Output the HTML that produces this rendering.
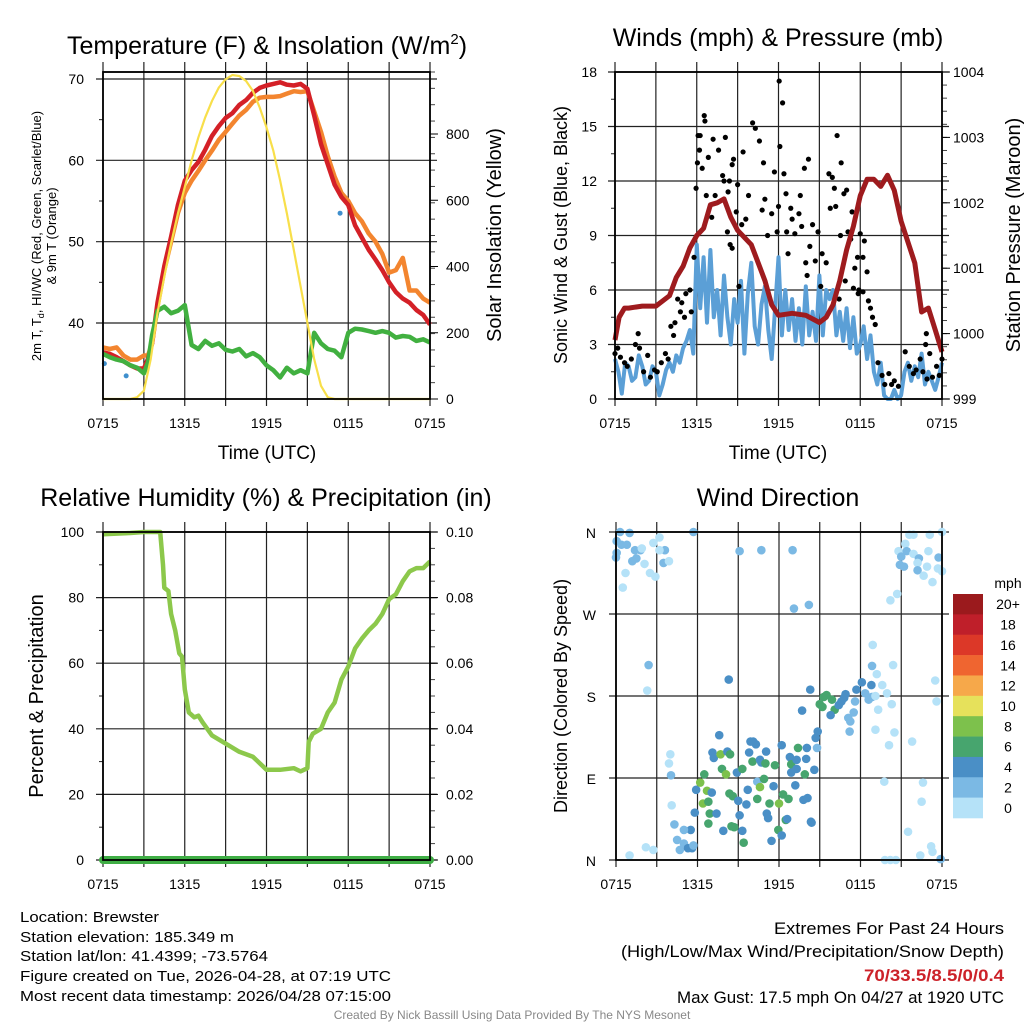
<!DOCTYPE html>
<html><head><meta charset="utf-8"><style>
html,body{margin:0;padding:0;background:#fff;}
svg{display:block;font-family:"Liberation Sans",Arial,sans-serif;}
</style></head><body>
<svg id="s" width="1024" height="1024" viewBox="0 0 1024 1024" xmlns="http://www.w3.org/2000/svg">
<g id="g1"></g>
<g id="g2"></g>
<g id="g3"></g>
<g id="g4"></g>
<g font-size="25" text-anchor="middle">
<text x="267" y="54">Temperature (F) &amp; Insolation (W/m<tspan dy="-10" font-size="15">2</tspan><tspan dy="10">)</tspan></text>
<text x="778" y="46">Winds (mph) &amp; Pressure (mb)</text>
<text x="266" y="506">Relative Humidity (%) &amp; Precipitation (in)</text>
<text x="778" y="506">Wind Direction</text>
</g>
<g text-anchor="middle">
<text x="267" y="459" font-size="19">Time (UTC)</text>
<text x="778" y="459" font-size="19">Time (UTC)</text>
<text transform="translate(41,236) rotate(-90)" font-size="13">2m T, T<tspan font-size="9" dy="3">d</tspan><tspan dy="-3">, HI/WC (Red, Green, Scarlet/Blue)</tspan></text>
<text transform="translate(56,236) rotate(-90)" font-size="13">&amp; 9m T (Orange)</text>
<text transform="translate(501,235) rotate(-90)" font-size="20">Solar Insolation (Yellow)</text>
<text transform="translate(567,235) rotate(-90)" font-size="18">Sonic Wind &amp; Gust (Blue, Black)</text>
<text transform="translate(1020,235) rotate(-90)" font-size="20">Station Pressure (Maroon)</text>
<text transform="translate(43,696) rotate(-90)" font-size="20">Percent &amp; Precipitation</text>
<text transform="translate(567,696) rotate(-90)" font-size="18">Direction (Colored By Speed)</text>
</g>
<g font-size="14.5">
<text x="20" y="922" textLength="139" lengthAdjust="spacingAndGlyphs">Location: Brewster</text>
<text x="20" y="942" textLength="214" lengthAdjust="spacingAndGlyphs">Station elevation: 185.349 m</text>
<text x="20" y="961" textLength="248" lengthAdjust="spacingAndGlyphs">Station lat/lon: 41.4399; -73.5764</text>
<text x="20" y="981" textLength="371" lengthAdjust="spacingAndGlyphs">Figure created on Tue, 2026-04-28, at 07:19 UTC</text>
<text x="20" y="1001" textLength="371" lengthAdjust="spacingAndGlyphs">Most recent data timestamp: 2026/04/28 07:15:00</text>
</g>
<g font-size="16.5" text-anchor="end">
<text x="1004" y="934" textLength="230" lengthAdjust="spacingAndGlyphs">Extremes For Past 24 Hours</text>
<text x="1004" y="957" textLength="383" lengthAdjust="spacingAndGlyphs">(High/Low/Max Wind/Precipitation/Snow Depth)</text>
<text x="1004" y="981" textLength="140" lengthAdjust="spacingAndGlyphs" fill="#cc2229" font-weight="bold">70/33.5/8.5/0/0.4</text>
<text x="1004" y="1003" textLength="327" lengthAdjust="spacingAndGlyphs">Max Gust: 17.5 mph On 04/27 at 1920 UTC</text>
</g>
<text x="512" y="1019" font-size="12" fill="#888" text-anchor="middle">Created By Nick Bassill Using Data Provided By The NYS Mesonet</text>
</svg>
<script>
// ---------- data ----------
const timeLabels = ["0715","1315","1915","0115","0715"];
const tHours = [0,0.5,1,1.5,2,2.5,3,3.3,3.6,4,4.5,5,5.5,6,6.5,7,7.5,8,8.5,9,9.5,10,10.5,11,11.5,12,12.5,13,13.5,14,14.5,15,15.5,16,16.5,17,17.5,18,18.5,19,19.5,20,20.5,21,21.5,22,22.5,23,23.5,24];
const temp2m = [36.4,36.2,35.8,35.3,34.8,34.4,34.4,35.6,37.5,42.5,47,50.6,54.5,57.5,58.8,59.8,61.3,63,64.2,65.2,65.8,66.8,67.4,68.3,68.9,69.2,69.4,69.6,69.3,69.2,69.4,68.8,65.5,62,59.5,57,55.5,54.5,52,50.5,49,47.8,46.5,45,43.8,43,42.5,41.6,41,39.8];
const temp9m = [37,36.8,37,36,35.5,35.5,36,36,37.5,42,46.5,50,53.5,56,57.5,58.7,60,61.2,62.5,63.5,64.5,65.5,66.2,67.2,67.7,67.8,67.8,67.9,68.2,68.5,68.4,68.5,66,63.5,60.5,58,56,55,53.5,52.5,51,50,48.5,46.2,46.5,48,44,44,43,42.5];
const dewpoint = [36.2,35.8,35.5,35.3,34.8,34.5,33.8,35.2,38.5,41.5,42,41.2,41.5,42.2,37.3,36.8,37.8,37.2,37.5,36.7,36.5,36.8,35.9,36.3,35.8,34.8,34.2,33.3,34.5,33.8,34.2,33.8,38.8,37.5,36.8,36.6,35.8,38.8,39.3,39.2,39,38.8,39,38.8,38.2,38.4,38.3,37.8,38,37.6];
const hiwcHours = [0.1,1.7,17.4];
const hiwcVals = [35,33.5,53.5];
const solarHours = [0,1,2,2.5,3,3.5,4,4.5,5,5.5,6,6.5,7,7.5,8,8.5,9,9.5,10,10.5,11,11.5,12,12.5,13,13.5,14,14.5,15,15.5,16,16.5,17,24];
const solarVals = [0,0,0,5,25,120,260,370,470,560,640,720,790,850,900,940,965,978,975,960,930,880,820,750,660,560,450,340,230,120,40,5,0,0];

const presHours = [0,0.3,0.7,1,2,3,4,4.5,5,5.5,6,6.5,7,7.5,8,8.5,9,10,11,11.5,12,13,14,15,15.5,16,16.5,17,17.5,18,18.5,19,19.5,20,20.5,21,22,22.5,23,23.5,24];
const presVals = [999.9,1000.25,1000.39,1000.39,1000.42,1000.42,1000.58,1000.86,1001.03,1001.31,1001.5,1001.61,1001.97,1002,1002.06,1001.78,1001.58,1001.36,1000.81,1000.44,1000.28,1000.31,1000.28,1000.17,1000.25,1000.44,1000.81,1001.28,1001.64,1002.11,1002.36,1002.36,1002.25,1002.42,1002.19,1001.72,1001.08,1000.33,1000.39,1000.06,999.72];
const windVals = [2.2,1.5,0.3,2.0,1.8,1.0,1.2,2.4,1.8,0.8,1.0,1.8,1.5,0.2,0.8,1.6,2.0,1.5,2.4,2.0,2.8,3.2,3.8,2.5,8.5,5.0,7.8,4.2,8.2,4.5,6.0,3.5,6.8,4.5,3.0,5.5,4.2,6.5,2.5,5.8,7.5,4.0,3.0,5.2,6.2,3.8,2.2,5.0,7.8,3.5,6.0,3.8,5.5,3.2,5.0,3.0,6.2,3.5,4.8,3.2,6.8,3.5,6.0,5.5,6.0,3.5,4.8,3.2,5.0,2.8,4.5,2.5,3.0,4.0,2.2,3.5,1.5,0.8,2.0,0.2,0,0,0.5,0,0.2,1.5,2.0,1.0,1.8,1.2,2.5,0.8,1.5,1.0,0.5,1.2,2.0];
const windHours = windVals.map((v,i)=>i*0.25);
const gustPts = [[0,2.5],[0.2,2.8],[0.4,2.3],[0.7,2],[0.9,1.8],[1.2,2.2],[1.5,3],[1.7,3.6],[1.8,2.8],[2.1,1.5],[2.4,2.4],[2.6,1.2],[2.9,1.6],[3.1,1.5],[3.4,2],[3.7,2.5],[3.9,2.2],
[4.1,4],[4.3,3.5],[4.4,4.2],[4.6,5.5],[4.8,4.8],[4.9,5.3],[5.1,4.5],[5.2,5.8],[5.5,6],[5.6,4.8],[5.8,7.8],[5.95,11.6],[6.05,13],[6.1,14.5],[6.25,14.5],
[6.2,13.7],[6.4,12.7],[6.55,15.6],[6.6,15.3],[6.7,11.2],[6.85,13.3],[7.2,14.3],[7.1,10],[7.35,11.2],[7.6,13.7],[7.9,12.3],[8.1,14.4],[8.0,12],[8.3,11.4],[8.25,9.2],[8.4,12],[8.45,8.5],[8.7,13.2],[8.6,8.3],[8.6,12.9],[8.9,10.3],[9.0,11.8],[9.1,6.2],[9.3,9.6],[9.4,13.6],
[9.6,9.9],[9.8,11.2],[10.1,15.2],[10.3,14.9],[10.6,14.2],[10.9,13],[10.8,10.4],[11,11],[11.2,9],[11.5,10.2],[11.7,12.5],[11.9,9.2],[12,10.6],[12.1,13.9],[12.05,17.5],[12.3,16.3],[12.4,12.4],[12.55,11.3],[12.9,10.5],[12.6,9.2],[13,9.9],[12.7,8],
[13.2,9.1],[13.5,10.2],[13.6,11.2],[13.9,12.7],[14.2,13.2],[13.7,9.5],[14.0,7.5],[14.3,8.4],[14.5,9.6],[14.1,6.8],[14.7,7.6],[14.9,9.2],[15.1,6.2],[15.2,8],[15.5,7.5],[15.8,10.5],[15.7,12.4],[15.95,12.2],
[16.1,11.6],[16.3,14.5],[16.6,13],[16.2,10.6],[16.55,9],[16.8,11.3],[17,11.5],[16.9,6.5],[16.45,5.5],[17.1,9.2],[17.3,8.8],[17.4,10.3],[17.6,7.2],[17.9,6],[17.8,7.8],[17.5,6.1],[18.2,5.9],[18.0,9.1],
[18.3,8.7],[18.6,5.4],[18.5,7],[18.2,7.8],[17.85,5.8],[18.9,4.5],[18.75,5],[19.1,4.1],[19.3,2],[19.6,1.3],[19.8,0.8],[20.1,1.4],[20.3,0.8],[20.5,1.0],[20.8,0.7],
[21.3,2.6],[21.6,1.8],[21.9,1.4],[22.1,1.6],[22.4,2.2],[22.6,1.5],[22.9,1.1],[22.8,3],[22.85,3.6],[23.1,2.5],[23.3,1.2],[23.6,1.8],[23.8,1.3],[24,2.2]];

const rhHours = [0,1,2,3,4,4.2,4.4,4.5,4.8,5,5.3,5.6,5.8,6,6.3,6.7,7,7.3,8,9,10,11,11.5,12,13,14,14.5,15,15.1,15.4,16,16.5,17,17.5,18,18.5,19,19.5,20,20.5,21,21.5,22,22.5,23,23.5,24];
const rhVals = [99.3,99.5,99.7,100,100,100,90,83,82,75,70,63,62,52,45,43.5,44,42,38,35.5,33,31.5,29.5,27.5,27.5,28,27,28,36,38.5,40,45,48,55,59,64.5,67.5,70,72,75,79.5,81,85,88,89,89,91];
const precipHours = [0,24];
const precipVals = [0,0];

const dirLabels = ["N","E","S","W","N"];
const speedBinLabels = ["20+","18","16","14","12","10","8","6","4","2","0"];
const speedBinColors = ["#9b1a1d","#bf1f2a","#dc3828","#ef6530","#f6a84a","#e6e15b","#7dc14c","#47a56e","#4a8fc6","#7bb9e4","#b5e2f8"];
const dirPts = [[0.3,360,3],[1,359,3],[0.05,350,3],[0.4,346,3],[0.8,346,3],[1.4,340,3],[1.8,340,3],[1.5,331,3],[1.2,328,3],[0,332,3],[0.05,337,3],[0.7,315,1],[0.5,299,1],[2.1,325,1],[2.5,315,1],[2.9,311,1],[2.75,348,1],[3.2,354,1],[3.5,326,3],[3.6,340,3],[3.9,328,1],[1.9,342,1],[3.2,340,1],[5.7,360,3],[9.1,339,3],[10.7,340,3],[13,340,3],[13.1,276,3],[14.2,280,3],[2.4,214,3],[2.3,186,1],[8.3,198,5],[4,116,1],[3.9,106,1],[4.05,93,3],[4.1,60,1],[4.3,39,3],[4.5,22,3],[4.7,11,3],[5,18,3],[5.3,13,5],[5.6,13,5],[5.5,33,5],[5.7,16,3],[5,33,3],[1,5,1],[2.2,14,1],[2.75,11,1],
[5.9,77,5],[6.2,85,9],[6.5,94,7],[6.7,76,9],[6.4,62,9],[6.8,64,7],[5.8,52,5],[6.9,51,7],[6.8,40,7],[7.05,74,5],[7.4,51,5],[7.9,32,5],[7.6,137,5],[7.1,118,5],[7.2,112,5],[7.7,116,9],[8.2,119,5],[8.4,116,7],[7.8,100,7],[8.1,94,9],[8.35,73,7],[8.6,70,7],[8.9,96,5],[9,65,5],[9.1,49,5],[9.3,32,5],[8.7,36,7],[8.5,37,7],[9.4,19,7],[9.3,100,7],[9.6,61,5],[9.7,77,5],[9.9,130,5],[10.1,130,5],[10.3,127,5],[9.8,118,5],[10.05,108,7],[10.6,110,5],[10.7,107,5],[11,106,7],[11.05,119,5],[10.4,86,3],[10.6,80,9],[10.9,89,7],[10.4,67,7],[11.1,51,5],[11.2,46,5],[11.45,21,5],[11.6,81,5],[11.7,104,7],[11.3,62,7],[12,62,9],[12.3,72,7],[12.7,67,7],[11.95,33,7],[12.2,27,5],[12.5,44,7],[12.6,45,5],[12.2,126,5],[12.8,113,5],[12.9,105,7],[13.3,110,5],[13.3,100,5],[12.9,96,5],[13.9,94,7],[14.05,123,5],[14,111,5],[13.4,123,7],[13.2,82,5],[13.8,66,5],[14.1,68,5],[14.35,42,5],[14.4,41,5],[14.6,99,5],[14.8,123,3],[14.7,134,5],[14.85,141,5],
[14.3,187,5],[13.7,164,5],[15,171,7],[15.2,168,7],[15.3,179,7],[15.5,181,7],[15.9,176,7],[16.1,165,7],[15.8,159,5],[16.4,170,5],[16.6,174,5],[16.8,178,5],[16.9,182,5],[17.1,156,3],[17.25,152,3],[17.5,162,3],[17.6,174,3],[17.2,141,3],[17.7,187,5],[18.1,195,5],[18.8,192,5],[18.35,183,3],[18.6,176,3],[18.85,179,3],[19.1,180,1],[19.3,165,1],[19.6,192,1],[19.95,183,1],[20.3,171,1],[20.4,214,1],[18.85,213,3],[19.2,204,1],[18.9,236,1],[19.1,143,1],[20.1,126,1],[20.5,140,1],[21.8,130,1],[23.5,197,1],[23.6,174,1],[19.75,86,1],[22.6,85,1],[22.5,64,1],[21.5,31,1],[22.4,5,1],[23.2,15,1],[23.3,9,1],[23.9,1,3],[19.8,0,1],[20.2,0,1],[20.6,0,1],
[20.2,285,1],[20.7,292,1],[20.8,339,1],[21,333,3],[20.9,324,3],[21.2,322,3],[21.3,347,1],[21.4,339,3],[21.6,357,1],[21.9,357,1],[21.9,336,1],[22.3,331,3],[22.2,326,1],[22.2,318,3],[22.65,312,1],[22.9,322,1],[23,339,1],[23.1,357,1],[23.3,305,1],[23.75,332,3],[23.7,320,1],[24,360,1],[24,317,1]];

// ---------- helpers ----------
const NS="http://www.w3.org/2000/svg";
function lin(d0,d1,p0,p1){return v=>p0+(v-d0)*(p1-p0)/(d1-d0);}
function mk(parent,tag,attrs){const e=document.createElementNS(NS,tag);for(const k in attrs)e.setAttribute(k,attrs[k]);parent.appendChild(e);return e;}
function txt(parent,x,y,s,size,anchor){const t=mk(parent,'text',{x:x,y:y,'font-size':size,'text-anchor':anchor});t.textContent=s;return t;}
function path(xs,ys,X,Y){return xs.map((h,i)=>(i?'L':'M')+X(h).toFixed(1)+','+Y(ys[i]).toFixed(1)).join('');}

function frame(g,x0,x1,y0,y1,X,yGrid,Y){
  const grid=mk(g,'g',{});
  
  
  for(let h=0;h<=24;h+=3){mk(grid,'line',{x1:X(h),x2:X(h),y1:y0-10,y2:y1+7,stroke:'#222','stroke-width':1.2});}
  yGrid.forEach(v=>{mk(grid,'line',{x1:x0-7,x2:x1+7,y1:Y(v),y2:Y(v),stroke:'#222','stroke-width':1.2});});
  const xl=mk(g,'g',{'font-size':14});
  
  
  timeLabels.forEach((s,i)=>txt(xl,X(i*6),y1+29,s,14,'middle'));
}
function box(g,x0,x1,y0,y1){
  const b=mk(g,'rect',{x:x0,y:y0,width:x1-x0,height:y1-y0,fill:'none',stroke:'#000','stroke-width':1.8});
  
  
}
function rightMinor(g,x1,y0,y1,n){for(let i=0;i<=n;i++){const y=y0+(y1-y0)*i/n;mk(g,'line',{x1:x1,x2:x1+5,y1:y,y2:y,stroke:'#444','stroke-width':1});}}

// ---------- panel 1 : temperature ----------
(function(){
  const g=document.getElementById('g1');
  const x0=103,x1=430,y0=72,y1=399;
  const X=lin(0,24,x0,x1), Y=lin(40,70,323,79), YS=lin(0,800,399,134);
  frame(g,x0,x1,y0,y1,X,[40,50,60,70],Y);
  [45,55,65].forEach(v=>mk(g,'line',{x1:x0-4,x2:x0,y1:Y(v),y2:Y(v),stroke:'#222'}));
  mk(g,'line',{x1:x0,x2:x1,y1:y0,y2:y0,stroke:'#000','stroke-width':1.2});
  rightMinor(g,x1,y0,y1,20);
  const yl=mk(g,'g',{});
  
  
  [40,50,60,70].forEach(v=>txt(yl,84,Y(v)+5,String(v),14,'end'));
  const yr=mk(g,'g',{});
  
  
  [0,200,400,600,800].forEach(v=>{mk(yr,'line',{x1:x1,x2:x1+8,y1:YS(v),y2:YS(v),stroke:'#000'});txt(yr,446,YS(v)+5,String(v),14,'start');});
  const o=mk(g,'path',{d:path(tHours,temp9m,X,Y),fill:'none',stroke:'#f3852f','stroke-width':4.5,'stroke-linejoin':'round'});
  
  
  const r=mk(g,'path',{d:path(tHours,temp2m,X,Y),fill:'none',stroke:'#d42027','stroke-width':4.5,'stroke-linejoin':'round'});
  
  
  const d=mk(g,'path',{d:path(tHours,dewpoint,X,Y),fill:'none',stroke:'#41b040','stroke-width':4.5,'stroke-linejoin':'round'});
  
  
  hiwcHours.forEach((h,i)=>{const c=mk(g,'circle',{cx:X(h),cy:Y(hiwcVals[i]),r:2.5,fill:'#3f8fcd'});
    
    });
  const s=mk(g,'path',{d:path(solarHours,solarVals,X,YS),fill:'none',stroke:'#f8df4a','stroke-width':2.2});
  
  
  box(g,x0,x1,y0,y1);
})();

// ---------- panel 2 : winds ----------
(function(){
  const g=document.getElementById('g2');
  const x0=615,x1=942,y0=72,y1=399;
  const X=lin(0,24,x0,x1), Y=lin(0,18,y1,y0), YP=lin(999,1004,y1,y0);
  frame(g,x0,x1,y0,y1,X,[0,3,6,9,12,15,18],Y);
  [1.5,4.5,7.5,10.5,13.5,16.5].forEach(v=>mk(g,'line',{x1:x0-4,x2:x0,y1:Y(v),y2:Y(v),stroke:'#222'}));
  rightMinor(g,x1,y0,y1,25);
  const yl=mk(g,'g',{});
  
  
  [0,3,6,9,12,15,18].forEach(v=>txt(yl,597,Y(v)+5,String(v),14,'end'));
  const yr=mk(g,'g',{});
  
  
  [999,1000,1001,1002,1003,1004].forEach(v=>{mk(yr,'line',{x1:x1,x2:x1+8,y1:YP(v),y2:YP(v),stroke:'#000'});txt(yr,953,YP(v)+5,String(v),14,'start');});
  const w=mk(g,'path',{d:path(windHours,windVals,X,Y),fill:'none',stroke:'#5b9fd6','stroke-width':4,'stroke-linejoin':'round'});
  
  
  const gg=mk(g,'g',{fill:'#000'});
  
  
  gustPts.forEach(p=>{const c=mk(gg,'circle',{cx:X(p[0]),cy:Y(p[1]),r:2.6});
    
    });
  const pr=mk(g,'path',{d:path(presHours,presVals,X,YP),fill:'none',stroke:'#9e1b1e','stroke-width':5,'stroke-linejoin':'round'});
  
  
  box(g,x0,x1,y0,y1);
})();

// ---------- panel 3 : humidity ----------
(function(){
  const g=document.getElementById('g3');
  const x0=103,x1=430,y0=532,y1=860;
  const X=lin(0,24,x0,x1), Y=lin(0,100,y1,y0), YR=lin(0,0.1,y1,y0);
  frame(g,x0,x1,y0,y1,X,[0,20,40,60,80,100],Y);
  [10,30,50,70,90].forEach(v=>mk(g,'line',{x1:x0-4,x2:x0,y1:Y(v),y2:Y(v),stroke:'#222'}));
  rightMinor(g,x1,y0,y1,20);
  const yl=mk(g,'g',{});
  
  
  [0,20,40,60,80,100].forEach(v=>txt(yl,84,Y(v)+5,String(v),14,'end'));
  const yr=mk(g,'g',{});
  
  
  [0,0.02,0.04,0.06,0.08,0.1].forEach(v=>{mk(yr,'line',{x1:x1,x2:x1+8,y1:YR(v),y2:YR(v),stroke:'#000'});txt(yr,446,YR(v)+5,v.toFixed(2),14,'start');});
  const h=mk(g,'path',{d:path(rhHours,rhVals,X,Y),fill:'none',stroke:'#8cc84b','stroke-width':4.5,'stroke-linejoin':'round'});
  
  
  const p=mk(g,'path',{d:path(precipHours,precipVals,X,YR),fill:'none',stroke:'#3fae45','stroke-width':8,'stroke-linecap':'round'});
  
  
  box(g,x0,x1,y0,y1);
})();

// ---------- panel 4 : wind direction ----------
(function(){
  const g=document.getElementById('g4');
  const x0=616,x1=942,y0=532,y1=860;
  const X=lin(0,24,x0,x1), Y=lin(0,360,y1,y0);
  frame(g,x0,x1,y0,y1,X,[0,90,180,270,360],Y);
  const yl=mk(g,'g',{});
  
  
  dirLabels.forEach((s,i)=>txt(yl,596,Y(i*90)+6,s,14,'end'));
  const pts=mk(g,'g',{});
  
  
  dirPts.forEach(p=>{
    const bin=Math.max(0,Math.min(10,10-Math.floor(p[2]/2)));
    const c=mk(pts,'circle',{cx:X(p[0]),cy:Y(p[1]),r:4.3,fill:speedBinColors[bin]});
    
    
  });
  const lg=mk(g,'g',{});
  
  
  txt(lg,1008,588,'mph',14,'middle');
  const ly0=594, lh=(818-594)/11;
  speedBinLabels.forEach((s,i)=>{
    const r=mk(lg,'rect',{x:953,y:ly0+i*lh,width:30,height:lh+0.3,fill:speedBinColors[i]});
    
    
    txt(lg,1008,ly0+i*lh+lh/2+5,s,14,'middle');
  });
  box(g,x0,x1,y0,y1);
})();
</script>
</body></html>
